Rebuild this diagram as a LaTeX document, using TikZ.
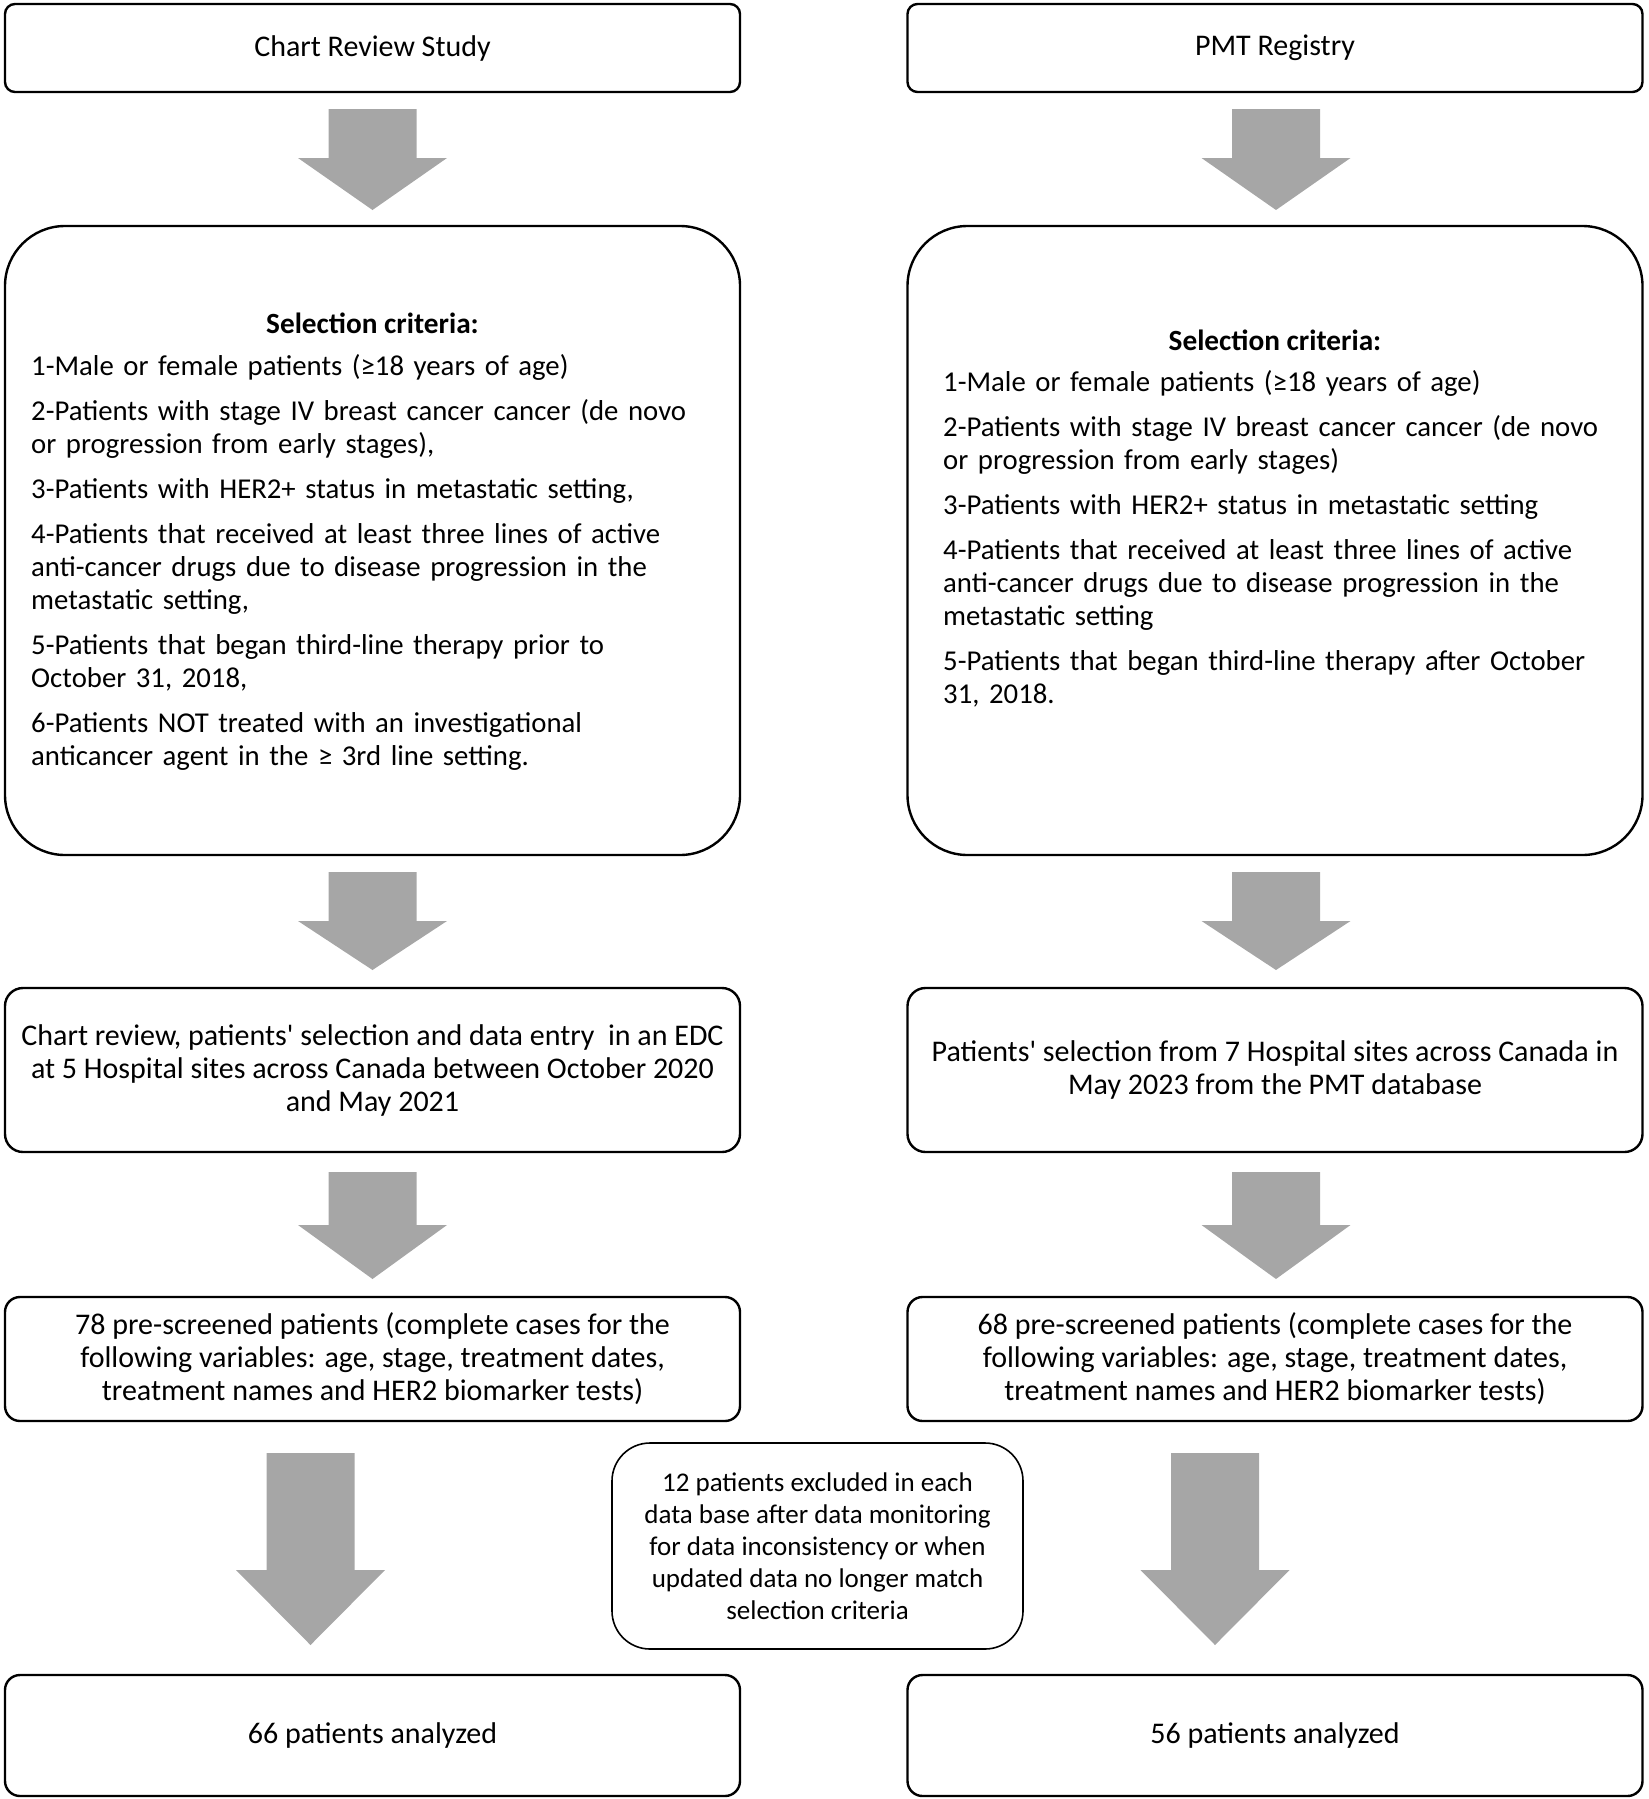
\documentclass[tikz,border=0pt]{standalone}
\usepackage{fontspec}
\setmainfont{Carlito}
\usetikzlibrary{calc}
\definecolor{arrowgray}{HTML}{A6A6A6}
\tikzset{
  basefont/.style={font=\fontsize{30}{33}\selectfont},
  flowbox/.style={draw=black, line width=2.4pt, outer sep=0pt, inner sep=0pt,
    minimum width=735pt, align=center, basefont},
  critbox/.style={flowbox, rounded corners=60pt, minimum height=629pt},
  listtext/.style={font=\fontsize{28.75}{33}\selectfont, anchor=base west, inner sep=0pt, text width=700pt, align=left},
  headtext/.style={font=\fontsize{29.3}{33}\selectfont\bfseries, inner sep=0pt},
}
% #1 from node, #2 to node, #3 x offset, #4 top gap, #5 bottom gap, #6 head length
\newcommand\grayarrow[6]{%
  \path[fill=arrowgray] let \p1=(#1.south), \p2=(#2.north) in
    (\x1+#3pt-44pt, \y1-#4pt) -- (\x1+#3pt+44pt, \y1-#4pt)
    -- (\x1+#3pt+44pt, \y2+#5pt+#6pt) -- (\x1+#3pt+74.5pt, \y2+#5pt+#6pt)
    -- (\x1+#3pt, \y2+#5pt)
    -- (\x1+#3pt-74.5pt, \y2+#5pt+#6pt) -- (\x1+#3pt-44pt, \y2+#5pt+#6pt) -- cycle;}
\begin{document}
\begin{tikzpicture}[x=1pt,y=-1pt]
\useasboundingbox (0,0) rectangle (1649,1799);

% row 1
\node[flowbox, rounded corners=10pt, minimum height=88pt] (cr) at (372.5,48) {Chart Review Study};
\node[flowbox, rounded corners=10pt, minimum height=88pt] (pmt) at (1275,48) {PMT Registry};

% row 2
\node[critbox] (selL) at (372.5,540.5) {};
\node[critbox] (selR) at (1275,540.5) {};
\node[headtext] (hdL) at (372.5,323) {Selection criteria:};
\node[headtext] (hdR) at (1275,340) {Selection criteria:};
\node[listtext] (lsL) at (31,375) {%
1-Male or female patients (≥18 years of age)\\[12pt]
2-Patients with stage IV breast cancer cancer (de novo\\
or progression from early stages),\\[12pt]
3-Patients with HER2+ status in metastatic setting,\\[12pt]
4-Patients that received at least three lines of active\\
anti-cancer drugs due to disease progression in the\\
metastatic setting,\\[12pt]
5-Patients that began third-line therapy prior to\\
October 31, 2018,\\[12pt]
6-Patients NOT treated with an investigational\\
anticancer agent in the ≥ 3rd line setting.};
\node[listtext] (lsR) at (943,391) {%
1-Male or female patients (≥18 years of age)\\[12pt]
2-Patients with stage IV breast cancer cancer (de novo\\
or progression from early stages)\\[12pt]
3-Patients with HER2+ status in metastatic setting\\[12pt]
4-Patients that received at least three lines of active\\
anti-cancer drugs due to disease progression in the\\
metastatic setting\\[12pt]
5-Patients that began third-line therapy after October\\
31, 2018.};

% row 3
\node[flowbox, rounded corners=18pt, minimum height=164pt] (chart) at (372.5,1070)
  {Chart review, patients\textquotesingle{} selection and data entry\ \ in an EDC\\
   at 5 Hospital sites across Canada between October 2020\\
   and May 2021};
\node[flowbox, rounded corners=18pt, minimum height=164pt] (pmtsel) at (1275,1070)
  {Patients\textquotesingle{} selection from 7 Hospital sites across Canada in\\
   May 2023 from the PMT database};

% row 4
\node[flowbox, rounded corners=15pt, minimum height=124pt] (preL) at (372.5,1359)
  {78 pre-screened patients (complete cases for the\\
   following variables: age, stage, treatment dates,\\
   treatment names and HER2 biomarker tests)};
\node[flowbox, rounded corners=15pt, minimum height=124pt] (preR) at (1275,1359)
  {68 pre-screened patients (complete cases for the\\
   following variables: age, stage, treatment dates,\\
   treatment names and HER2 biomarker tests)};

% exclusion box
\node[flowbox, line width=1.6pt, rounded corners=38pt, minimum width=411pt, minimum height=206pt,
      font=\fontsize{27}{32}\selectfont] (excl) at (817.5,1546)
  {12 patients excluded in each\\
   data base after data monitoring\\
   for data inconsistency or when\\
   updated data no longer match\\
   selection criteria};

% row 5
\node[flowbox, rounded corners=15pt, minimum height=121pt] (anL) at (372.5,1735.5) {66 patients analyzed};
\node[flowbox, rounded corners=15pt, minimum height=121pt] (anR) at (1275,1735.5) {56 patients analyzed};

% arrows
\grayarrow{cr}{selL}{0}{17}{16}{52}
\grayarrow{pmt}{selR}{1}{17}{16}{52}
\grayarrow{selL}{chart}{0}{17}{18}{49}
\grayarrow{selR}{pmtsel}{1}{17}{18}{49}
\grayarrow{chart}{preL}{0}{20}{18}{54}
\grayarrow{pmtsel}{preR}{1}{20}{18}{54}
\grayarrow{preL}{anL}{-62}{32}{30}{75}
\grayarrow{preR}{anR}{-60}{32}{30}{75}
\end{tikzpicture}
\end{document}
